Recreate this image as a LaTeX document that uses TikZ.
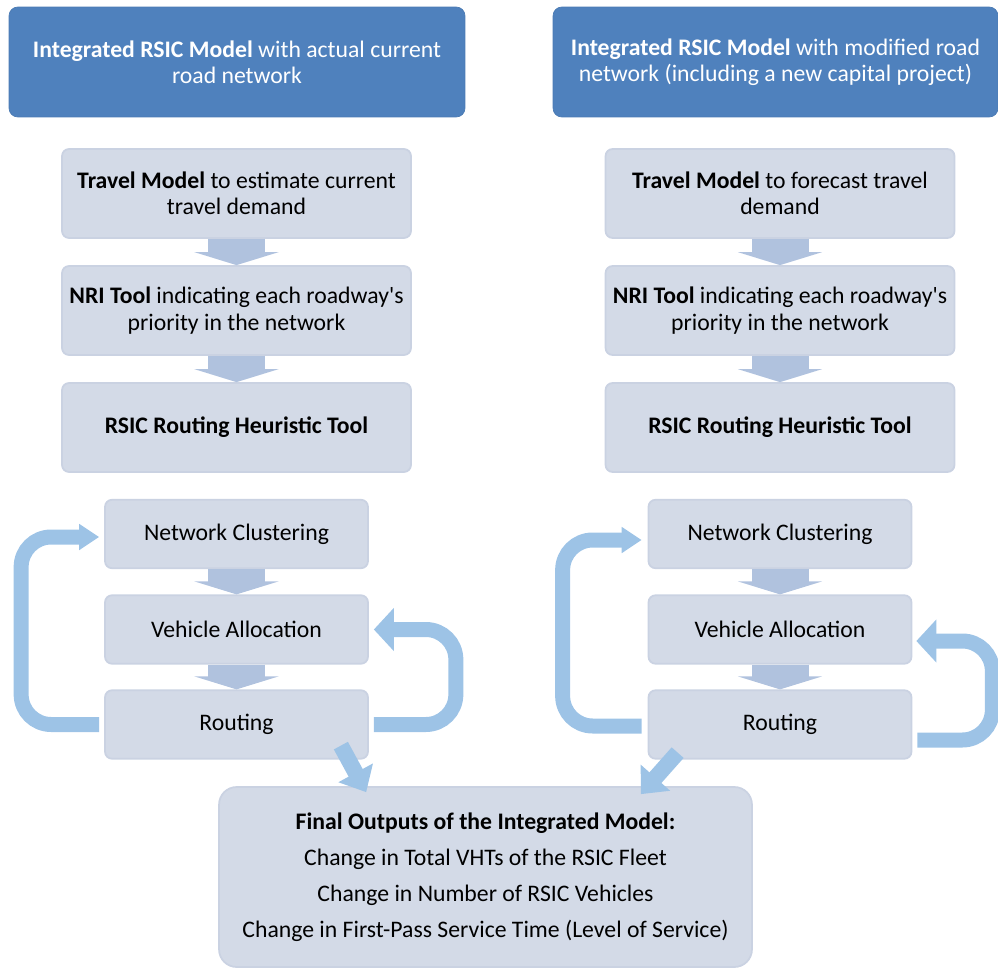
\documentclass[tikz,border=0pt]{standalone}
\usepackage{fontspec}
\setmainfont{Carlito}
\usetikzlibrary{arrows.meta}
\definecolor{topblue}{HTML}{4F81BD}
\definecolor{boxfill}{HTML}{D3DAE7}
\definecolor{boxline}{HTML}{CAD2E2}
\definecolor{stepblue}{HTML}{B0C2DE}
\definecolor{loopblue}{HTML}{9DC3E6}
\begin{document}
\begin{tikzpicture}[x=0.02cm,y=-0.02cm,
	every node/.style={font=\fontsize{13.5}{14.9}\selectfont, align=center},
	headbox/.style={fill=topblue, draw=topblue!95!black, rounded corners=5pt, text=white, minimum height=2.2cm},
	stagebox/.style={fill=boxfill, draw=boxline, line width=1pt, rounded corners=4pt, minimum width=6.98cm, minimum height=1.78cm},
	loopbox/.style={stagebox, minimum width=5.26cm, minimum height=1.37cm},
	downarrow/.style={draw=stepblue, line width=1.14cm, -{Triangle[width=1.68cm,length=0.26cm]}},
	loopback/.style={draw=loopblue, line width=0.3cm, rounded corners=0.6cm, -{Triangle[width=0.5cm,length=0.4cm]}},
	loopwide/.style={loopback, -{Triangle[width=0.84cm,length=0.4cm]}},
	outarrow/.style={draw=loopblue, line width=0.32cm, -{Triangle[width=0.76cm,length=0.44cm]}}]
	\useasboundingbox (0,0) rectangle (998,970);
	\node[headbox, minimum width=9.12cm] (head1) at (237,62) {\textbf{Integrated RSIC Model} with actual current\\road network};
	\node[headbox, minimum width=8.9cm] (head2) at (775.5,62) {\textbf{Integrated RSIC Model} with modified road\\network (including a new capital project)};
	\node[stagebox] (tm1) at (236.5,193.5) {\textbf{Travel Model} to estimate current\\travel demand};
	\node[stagebox] (nri1) at (236.5,310.5) {\textbf{NRI Tool} indicating each roadway\textquotesingle s\\priority in the network};
	\node[stagebox] (rh1) at (236.5,427.5) {\textbf{RSIC Routing Heuristic Tool}};
	\node[loopbox] (nc1) at (236.5,534) {Network Clustering};
	\node[loopbox] (va1) at (236.5,629.5) {Vehicle Allocation};
	\node[loopbox] (rt1) at (236.5,724.5) {Routing};
	\node[stagebox] (tm2) at (780,193.5) {\textbf{Travel Model} to forecast travel\\demand};
	\node[stagebox] (nri2) at (780,310.5) {\textbf{NRI Tool} indicating each roadway\textquotesingle s\\priority in the network};
	\node[stagebox] (rh2) at (780,427.5) {\textbf{RSIC Routing Heuristic Tool}};
	\node[loopbox] (nc2) at (780,534) {Network Clustering};
	\node[loopbox] (va2) at (780,629.5) {Vehicle Allocation};
	\node[loopbox] (rt2) at (780,724.5) {Routing};
	\node[stagebox, minimum width=10.66cm, minimum height=3.6cm, rounded corners=10pt, font=\fontsize{13.5}{20.4}\selectfont] (out) at (485.5,877)
		{\textbf{Final Outputs of the Integrated Model:}\\Change in Total VHTs of the RSIC Fleet\\Change in Number of RSIC Vehicles\\Change in First-Pass Service Time (Level of Service)};
	\foreach \a/\b in {tm1/nri1,nri1/rh1,nc1/va1,va1/rt1,tm2/nri2,nri2/rh2,nc2/va2,va2/rt2}
		\draw[downarrow] (\a.south) -- (\b.north);
	\draw[loopback] ([shift={(-5,0)}]rt1.west) -- ++(-78,0) |- ([shift={(-5,3)}]nc1.west);
	\draw[loopwide] ([shift={(5,0)}]rt1.east) -- ++(82,0) |- ([shift={(5,0)}]va1.east);
	\draw[loopback] ([shift={(-6,1.5)}]rt2.west) -- ++(-79,0) |- ([shift={(-6,6)}]nc2.west);
	\draw[loopwide] ([shift={(5,15.5)}]rt2.east) -- ++(75,0) |- ([shift={(4,11.5)}]va2.east);
	\draw[outarrow] ([shift={(-28,-14)}]rt1.south east) -- ([shift={(148,6)}]out.north west);
	\draw[outarrow] ([shift={(30,-7)}]rt2.south west) -- ([shift={(-112,8)}]out.north east);
\end{tikzpicture}
\end{document}
